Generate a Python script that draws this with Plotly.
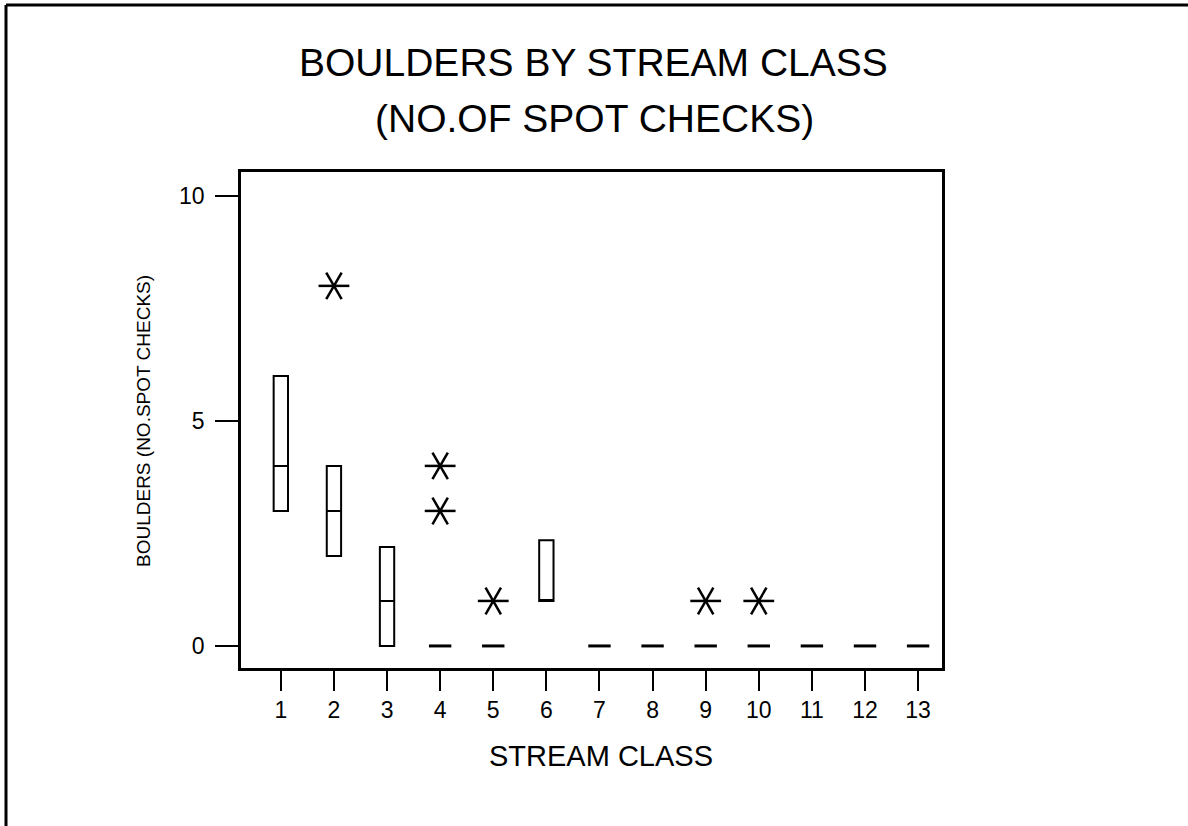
import plotly.graph_objects as go

# ---- data ----
box_classes = [1, 2, 3, 6]
box_q1 = [3, 2, 0, 1]
box_median = [4, 3, 1, 1]
box_q3 = [6, 4, 2.2, 2.35]

outlier_classes = [2, 4, 4, 5, 9, 10]
outlier_values = [8, 4, 3, 1, 1, 1]

zero_classes = [4, 5, 7, 8, 9, 10, 11, 12, 13]
zero_values = [0, 0, 0, 0, 0, 0, 0, 0, 0]

x_ticks = list(range(1, 14))
y_ticks = [0, 5, 10]

FONT = "Liberation Sans, Arial, Helvetica, sans-serif"

# plot-area geometry (pixels) used for paper-coordinate placement
L, R, T, B = 241, 942, 172, 668
W, H = R - L, B - T

def px(xpix):
    return (xpix - L) / W

def py(ypix):
    return (B - ypix) / H

fig = go.Figure()

fig.add_trace(go.Box(
    x=box_classes, q1=box_q1, median=box_median, q3=box_q3,
    lowerfence=box_q1, upperfence=box_q3,
    width=0.27, fillcolor="white",
    line=dict(color="black", width=2),
    boxpoints=False, showlegend=False, hoverinfo="skip",
))

fig.add_trace(go.Scatter(
    x=zero_classes, y=zero_values, mode="markers",
    marker=dict(symbol="line-ew-open", size=16, color="black",
                line=dict(color="black", width=3)),
    showlegend=False, hoverinfo="skip",
))

# six-armed asterisk: horizontal bar + two steep diagonals
for sym, ang, size in [("line-ew-open", 0, 22), ("line-ns-open", 30, 22), ("line-ns-open", -30, 22)]:
    fig.add_trace(go.Scatter(
        x=outlier_classes, y=outlier_values, mode="markers",
        marker=dict(symbol=sym, size=size, angle=ang, color="black",
                    line=dict(color="black", width=2.5)),
        showlegend=False, hoverinfo="skip",
    ))

fig.update_xaxes(
    range=[0.25, 13.45], tickmode="array", tickvals=x_ticks,
    ticktext=[str(v) for v in x_ticks],
    ticks="outside", ticklen=20, tickwidth=2, tickcolor="black",
    showline=True, linecolor="black", linewidth=2.5, mirror=True,
    showgrid=False, zeroline=False,
    tickfont=dict(family=FONT, size=23, color="black"),
)
fig.update_yaxes(
    range=[-0.49, 10.53], tickmode="array", tickvals=y_ticks,
    ticktext=[str(v) for v in y_ticks],
    ticks="outside", ticklen=23, tickwidth=2, tickcolor="black",
    showline=True, linecolor="black", linewidth=2.5, mirror=True,
    showgrid=False, zeroline=False, ticklabelstandoff=6,
    tickfont=dict(family=FONT, size=23, color="black"),
)

annotations = [
    dict(text="BOULDERS BY STREAM CLASS", x=px(593), y=py(62), size=39),
    dict(text="(NO.OF SPOT CHECKS)", x=px(594), y=py(118), size=39),
    dict(text="STREAM CLASS", x=px(601), y=py(756), size=29),
]
for a in annotations:
    fig.add_annotation(
        text=a["text"], x=a["x"], y=a["y"], xref="paper", yref="paper",
        xanchor="center", yanchor="middle", showarrow=False,
        font=dict(family=FONT, size=a["size"], color="black"),
    )
fig.add_annotation(
    text="BOULDERS (NO.SPOT CHECKS)", x=px(143), y=py(421),
    xref="paper", yref="paper", xanchor="center", yanchor="middle",
    showarrow=False, textangle=-90,
    font=dict(family=FONT, size=19, color="black"),
)

# page border (top and left edges)
fig.add_shape(type="line", xref="paper", yref="paper",
              x0=px(6), x1=px(1188), y0=py(5), y1=py(5),
              line=dict(color="black", width=3))
fig.add_shape(type="line", xref="paper", yref="paper",
              x0=px(6), x1=px(6), y0=py(5), y1=py(826),
              line=dict(color="black", width=3))

fig.update_layout(
    width=1188, height=826,
    margin=dict(l=L, r=1188 - R, t=T, b=826 - B),
    paper_bgcolor="white", plot_bgcolor="white",
    font=dict(family=FONT, color="black"),
    showlegend=False,
)

fig.write_html("out.html", config={"displayModeBar": False},
               post_script="document.body.style.margin='0';document.body.style.overflow='hidden';")
